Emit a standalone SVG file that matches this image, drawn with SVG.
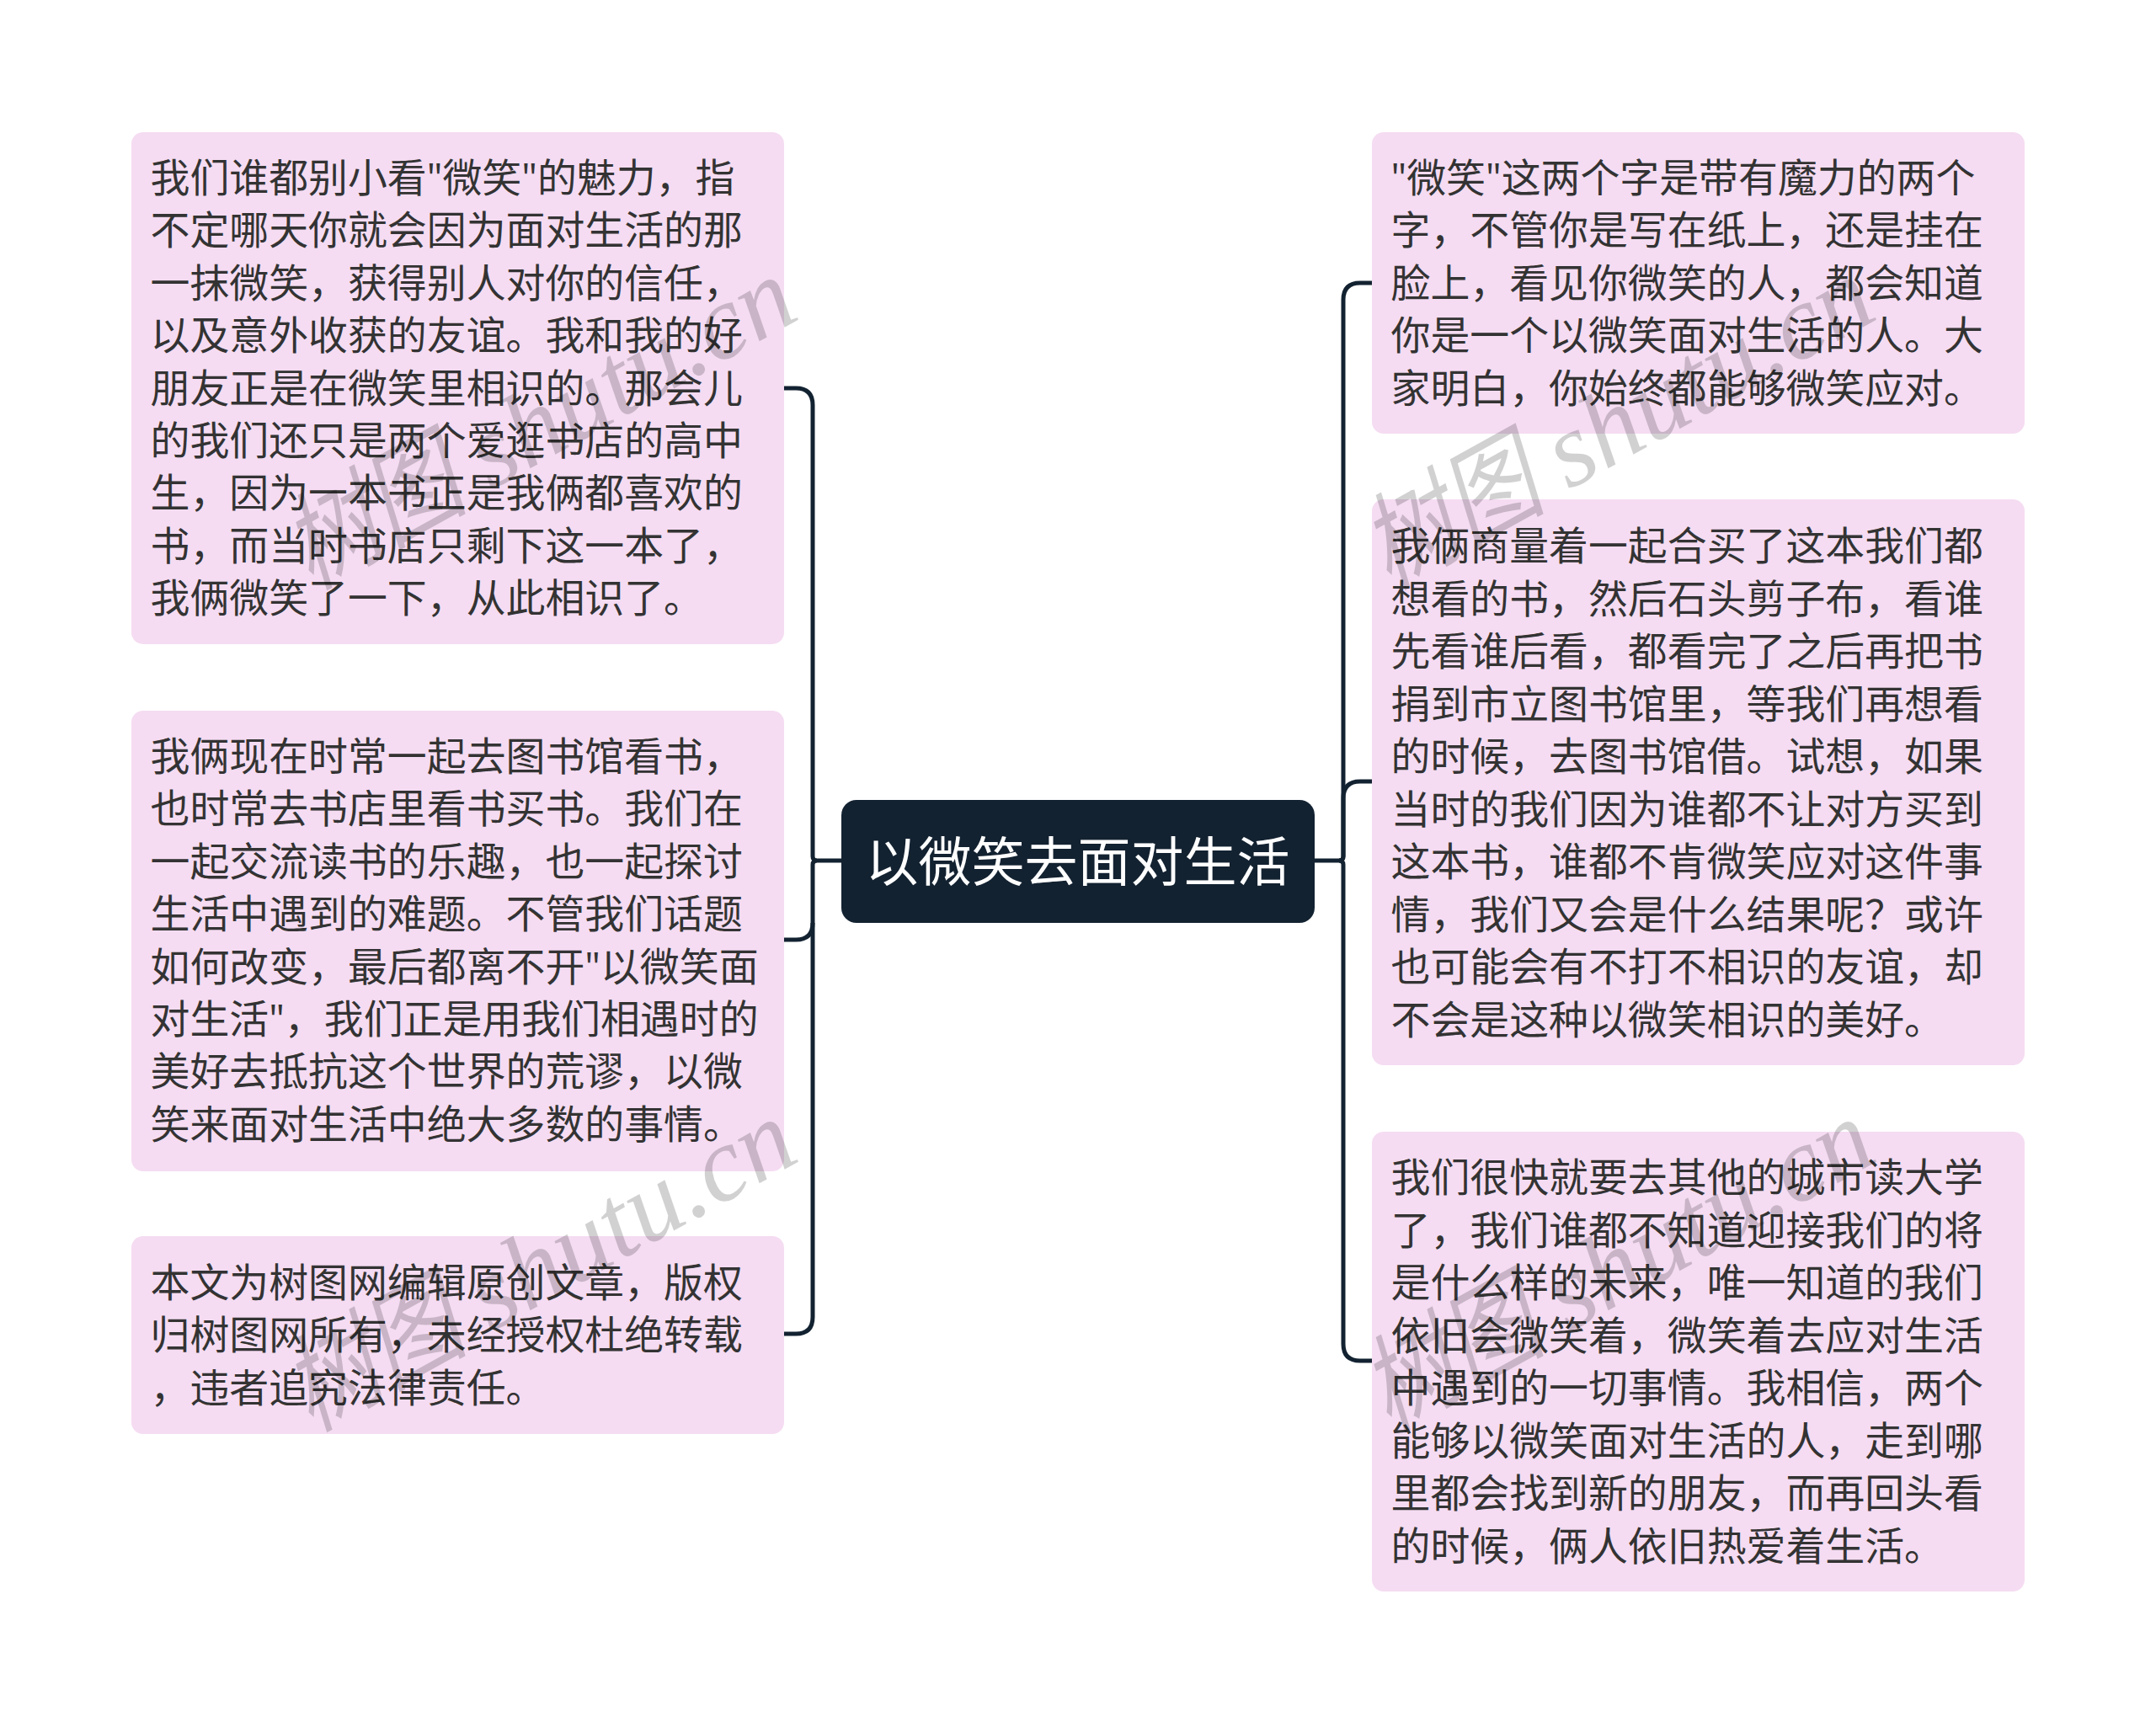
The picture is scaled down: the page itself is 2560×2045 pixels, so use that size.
<svg xmlns="http://www.w3.org/2000/svg" width="2560" height="2045" viewBox="0 0 2560 2045">
<defs><style>
.b{fill:#f5dcf2}
.t{font-family:"Open Sans","Noto Sans CJK SC",sans-serif;font-size:46.9px;fill:#333333}
.c{fill:none;stroke:#132231;stroke-width:5}
.w{font-family:"Liberation Serif","Noto Sans CJK SC",serif;font-style:italic;font-size:126px;fill:#000;fill-opacity:.18}
</style>
<g id="wm"><text class="w" transform="scale(.85 1)">树图</text><text class="w" x="243">shutu.cn</text></g>
</defs>
<rect width="2560" height="2045" fill="#fff"/>
<g id="connectors">
<path class="c" d="M1000 1022H970Q965 1022 965 1017V481Q965 461 945 461H931"/>
<path class="c" d="M970 1022Q965 1022 965 1027V1096Q965 1116 945 1116H931"/>
<path class="c" d="M965 1096V1564Q965 1584 945 1584H931"/>
<path class="c" d="M1560 1022H1590Q1595 1022 1595 1017V356Q1595 336 1615 336H1629"/>
<path class="c" d="M1590 1022Q1595 1022 1595 1017V948Q1595 928 1615 928H1629"/>
<path class="c" d="M1590 1022Q1595 1022 1595 1027V1596Q1595 1616 1615 1616H1629"/>
</g>
<g id="root"><rect x="999" y="950" width="562" height="146" rx="18" fill="#132231"/>
<text x="1027.5" y="1046" font-family="Noto Sans CJK SC,sans-serif" font-size="63" fill="#fff">以微笑去面对生活</text></g>
<g id="node-l1"><rect class="b" x="156" y="157" width="775" height="608" rx="14"/>
<text class="t">
<tspan x="178.5" y="228">我们谁都别小看"微笑"的魅力，指</tspan>
<tspan x="178.5" y="290.4">不定哪天你就会因为面对生活的那</tspan>
<tspan x="178.5" y="352.8">一抹微笑，获得别人对你的信任，</tspan>
<tspan x="178.5" y="415.2">以及意外收获的友谊。我和我的好</tspan>
<tspan x="178.5" y="477.6">朋友正是在微笑里相识的。那会儿</tspan>
<tspan x="178.5" y="540">的我们还只是两个爱逛书店的高中</tspan>
<tspan x="178.5" y="602.4">生，因为一本书正是我俩都喜欢的</tspan>
<tspan x="178.5" y="664.8">书，而当时书店只剩下这一本了，</tspan>
<tspan x="178.5" y="727.2">我俩微笑了一下，从此相识了。</tspan>
</text></g>
<g id="node-l2"><rect class="b" x="156" y="844" width="775" height="547" rx="14"/>
<text class="t">
<tspan x="178.5" y="915">我俩现在时常一起去图书馆看书，</tspan>
<tspan x="178.5" y="977.4">也时常去书店里看书买书。我们在</tspan>
<tspan x="178.5" y="1039.8">一起交流读书的乐趣，也一起探讨</tspan>
<tspan x="178.5" y="1102.2">生活中遇到的难题。不管我们话题</tspan>
<tspan x="178.5" y="1164.6">如何改变，最后都离不开"以微笑面</tspan>
<tspan x="178.5" y="1227">对生活"，我们正是用我们相遇时的</tspan>
<tspan x="178.5" y="1289.4">美好去抵抗这个世界的荒谬，以微</tspan>
<tspan x="178.5" y="1351.8">笑来面对生活中绝大多数的事情。</tspan>
</text></g>
<g id="node-l3"><rect class="b" x="156" y="1468" width="775" height="235" rx="14"/>
<text class="t">
<tspan x="178.5" y="1539.5">本文为树图网编辑原创文章，版权</tspan>
<tspan x="178.5" y="1602">归树图网所有，未经授权杜绝转载</tspan>
<tspan x="178.5" y="1664.5">，违者追究法律责任。</tspan>
</text></g>
<g id="node-r1"><rect class="b" x="1629" y="157" width="775" height="358" rx="14"/>
<text class="t">
<tspan x="1651.5" y="228">"微笑"这两个字是带有魔力的两个</tspan>
<tspan x="1651.5" y="290.4">字，不管你是写在纸上，还是挂在</tspan>
<tspan x="1651.5" y="352.8">脸上，看见你微笑的人，都会知道</tspan>
<tspan x="1651.5" y="415.2">你是一个以微笑面对生活的人。大</tspan>
<tspan x="1651.5" y="477.6">家明白，你始终都能够微笑应对。</tspan>
</text></g>
<g id="node-r2"><rect class="b" x="1629" y="593" width="775" height="672" rx="14"/>
<text class="t">
<tspan x="1651.5" y="665">我俩商量着一起合买了这本我们都</tspan>
<tspan x="1651.5" y="727.5">想看的书，然后石头剪子布，看谁</tspan>
<tspan x="1651.5" y="790">先看谁后看，都看完了之后再把书</tspan>
<tspan x="1651.5" y="852.5">捐到市立图书馆里，等我们再想看</tspan>
<tspan x="1651.5" y="915">的时候，去图书馆借。试想，如果</tspan>
<tspan x="1651.5" y="977.5">当时的我们因为谁都不让对方买到</tspan>
<tspan x="1651.5" y="1040">这本书，谁都不肯微笑应对这件事</tspan>
<tspan x="1651.5" y="1102.5">情，我们又会是什么结果呢？或许</tspan>
<tspan x="1651.5" y="1165">也可能会有不打不相识的友谊，却</tspan>
<tspan x="1651.5" y="1227.5">不会是这种以微笑相识的美好。</tspan>
</text></g>
<g id="node-r3"><rect class="b" x="1629" y="1344" width="775" height="546" rx="14"/>
<text class="t">
<tspan x="1651.5" y="1415">我们很快就要去其他的城市读大学</tspan>
<tspan x="1651.5" y="1477.5">了，我们谁都不知道迎接我们的将</tspan>
<tspan x="1651.5" y="1540">是什么样的未来，唯一知道的我们</tspan>
<tspan x="1651.5" y="1602.5">依旧会微笑着，微笑着去应对生活</tspan>
<tspan x="1651.5" y="1665">中遇到的一切事情。我相信，两个</tspan>
<tspan x="1651.5" y="1727.5">能够以微笑面对生活的人，走到哪</tspan>
<tspan x="1651.5" y="1790">里都会找到新的朋友，而再回头看</tspan>
<tspan x="1651.5" y="1852.5">的时候，俩人依旧热爱着生活。</tspan>
</text></g>
<g id="watermarks">
<use href="#wm" transform="translate(370 700) rotate(-29)"/>
<use href="#wm" transform="translate(370 1700) rotate(-29)"/>
<use href="#wm" transform="translate(1650 700) rotate(-29)"/>
<use href="#wm" transform="translate(1650 1700) rotate(-29)"/>
</g>
</svg>
